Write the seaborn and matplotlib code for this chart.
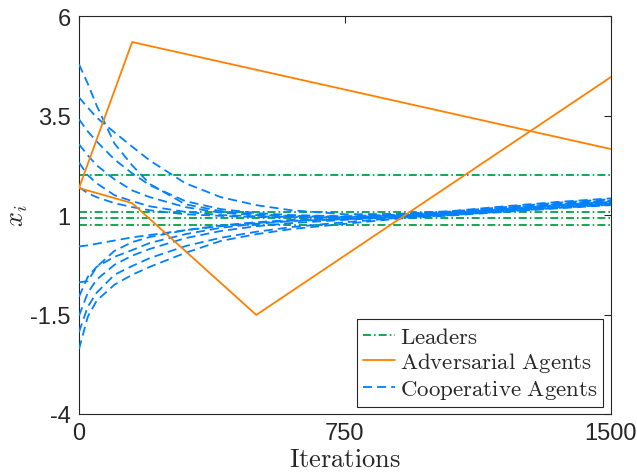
import numpy as np
import matplotlib
matplotlib.use('Agg')
import matplotlib.pyplot as plt
from matplotlib.lines import Line2D
import pandas as pd
import seaborn as sns

# Sample iterations
iters = [0, 25, 50, 100, 150, 200, 300, 400, 500, 600, 750, 900, 1050, 1200, 1350, 1500]

# Cooperative agents (started above the leaders)
coop_u1 = [4.79, 4.30, 3.75, 2.80, 2.25, 1.78, 1.27, 1.10, 1.02, 0.98, 0.96, 1.00, 1.08, 1.18, 1.28, 1.36]
coop_u2 = [3.96, 3.70, 3.45, 3.08, 2.72, 2.37, 1.80, 1.45, 1.25, 1.12, 1.02, 1.03, 1.10, 1.22, 1.33, 1.42]
coop_u3 = [3.41, 3.10, 2.85, 2.40, 2.05, 1.75, 1.35, 1.15, 1.05, 1.00, 0.97, 1.01, 1.09, 1.20, 1.31, 1.40]
coop_u4 = [2.78, 2.50, 2.25, 1.90, 1.62, 1.45, 1.20, 1.06, 1.00, 0.97, 0.95, 1.00, 1.07, 1.17, 1.27, 1.35]
coop_u5 = [2.32, 2.00, 1.80, 1.50, 1.35, 1.22, 1.08, 1.00, 0.97, 0.95, 0.94, 0.99, 1.06, 1.15, 1.24, 1.32]
coop_u6 = [1.70, 1.55, 1.45, 1.30, 1.20, 1.12, 1.02, 0.98, 0.95, 0.94, 0.93, 0.98, 1.05, 1.14, 1.24, 1.31]
# Cooperative agents (started below the leaders)
coop_l1 = [0.21, 0.24, 0.28, 0.36, 0.44, 0.50, 0.62, 0.72, 0.80, 0.86, 0.90, 0.96, 1.04, 1.14, 1.25, 1.33]
coop_l2 = [-0.69, -0.66, -0.30, 0.10, 0.32, 0.45, 0.62, 0.74, 0.82, 0.88, 0.92, 0.98, 1.06, 1.16, 1.28, 1.38]
coop_l3 = [-1.05, -0.55, -0.30, -0.05, 0.12, 0.30, 0.52, 0.68, 0.78, 0.85, 0.90, 0.96, 1.03, 1.12, 1.22, 1.30]
coop_l4 = [-1.53, -0.95, -0.62, -0.25, -0.02, 0.15, 0.42, 0.60, 0.72, 0.80, 0.88, 0.95, 1.02, 1.11, 1.20, 1.28]
coop_l5 = [-1.94, -1.30, -0.95, -0.50, -0.28, -0.08, 0.22, 0.43, 0.58, 0.70, 0.82, 0.93, 1.00, 1.09, 1.18, 1.26]
coop_l6 = [-2.37, -1.55, -1.15, -0.75, -0.50, -0.30, 0.05, 0.35, 0.52, 0.65, 0.78, 0.91, 0.99, 1.08, 1.17, 1.25]

# Adversarial agents (piecewise straight)
adv1_t = [0, 150, 1500]
adv1_x = [1.68, 5.35, 2.66]
adv2_t = [0, 150, 500, 1500]
adv2_x = [1.68, 1.30, -1.51, 4.47]

# Leaders (constant)
leader_t = [0, 1500]
leader_vals = [2.02, 1.08, 0.92, 0.76]

x_ticks = [0, 750, 1500]
y_ticks = [-4, -1.5, 1, 3.5, 6]

green = '#00A04A'
orange = '#FF8000'
blue = '#0080FF'

coop_all = [coop_u1, coop_u2, coop_u3, coop_u4, coop_u5, coop_u6,
            coop_l1, coop_l2, coop_l3, coop_l4, coop_l5, coop_l6]
coop_df = pd.concat(
    [pd.DataFrame({'t': iters, 'x': vals, 'agent': i}) for i, vals in enumerate(coop_all)],
    ignore_index=True)
leader_df = pd.concat(
    [pd.DataFrame({'t': leader_t, 'x': [v, v], 'agent': i}) for i, v in enumerate(leader_vals)],
    ignore_index=True)
adv_df = pd.concat([
    pd.DataFrame({'t': adv1_t, 'x': adv1_x, 'agent': 0}),
    pd.DataFrame({'t': adv2_t, 'x': adv2_x, 'agent': 1}),
], ignore_index=True)

sns.set_theme(style='white')
plt.rcParams['font.family'] = ['Liberation Sans', 'DejaVu Sans']
plt.rcParams['mathtext.fontset'] = 'cm'
plt.rcParams['axes.unicode_minus'] = False

fig, ax = plt.subplots(figsize=(6.37, 4.77), dpi=100)
fig.subplots_adjust(left=0.124, right=0.959, bottom=0.130, top=0.964)

lw = 1.3
dashdot = [4.4, 1.7, 0.9, 1.7]
dash = [5.0, 2.8]

sns.lineplot(data=leader_df, x='t', y='x', units='agent', estimator=None, ax=ax,
             color=green, lw=lw, zorder=2)
for line in ax.lines:
    line.set_dashes(dashdot)
n_before = len(ax.lines)
sns.lineplot(data=coop_df, x='t', y='x', units='agent', estimator=None, ax=ax,
             color=blue, lw=lw, zorder=3)
for line in ax.lines[n_before:]:
    line.set_dashes(dash)
sns.lineplot(data=adv_df, x='t', y='x', units='agent', estimator=None, ax=ax,
             color=orange, lw=lw, zorder=4)

ax.set_xlim(0, 1500)
ax.set_ylim(-4, 6)
ax.set_xticks(x_ticks)
ax.set_yticks(y_ticks)
ax.set_yticklabels(['-4', '-1.5', '1', '3.5', '6'])
ax.tick_params(direction='in', top=True, right=True, length=5, width=0.8,
               labelsize=17, colors='0.15', pad=6)
for sp in ax.spines.values():
    sp.set_visible(True)
    sp.set_color('0.15')
    sp.set_linewidth(0.8)

ax.set_xlabel(r'$\mathrm{Iterations}$', fontsize=19, labelpad=2)
ax.set_ylabel(r'$x_i$', fontsize=19, labelpad=0)

handles = [
    Line2D([], [], color=green, lw=lw, dashes=dashdot),
    Line2D([], [], color=orange, lw=lw),
    Line2D([], [], color=blue, lw=lw, dashes=dash),
]
labels = [r'$\mathrm{Leaders}$', r'$\mathrm{Adversarial\ Agents}$', r'$\mathrm{Cooperative\ Agents}$']
leg = ax.legend(handles, labels, loc='lower right', bbox_to_anchor=(0.985, 0.018),
                borderaxespad=0, fontsize=16.5, frameon=True, fancybox=False,
                framealpha=1, edgecolor='0.15', handlelength=1.4, handletextpad=0.2,
                labelspacing=0.12, borderpad=0.25)
leg.get_frame().set_linewidth(0.8)

fig.savefig('out.png', dpi=100)
